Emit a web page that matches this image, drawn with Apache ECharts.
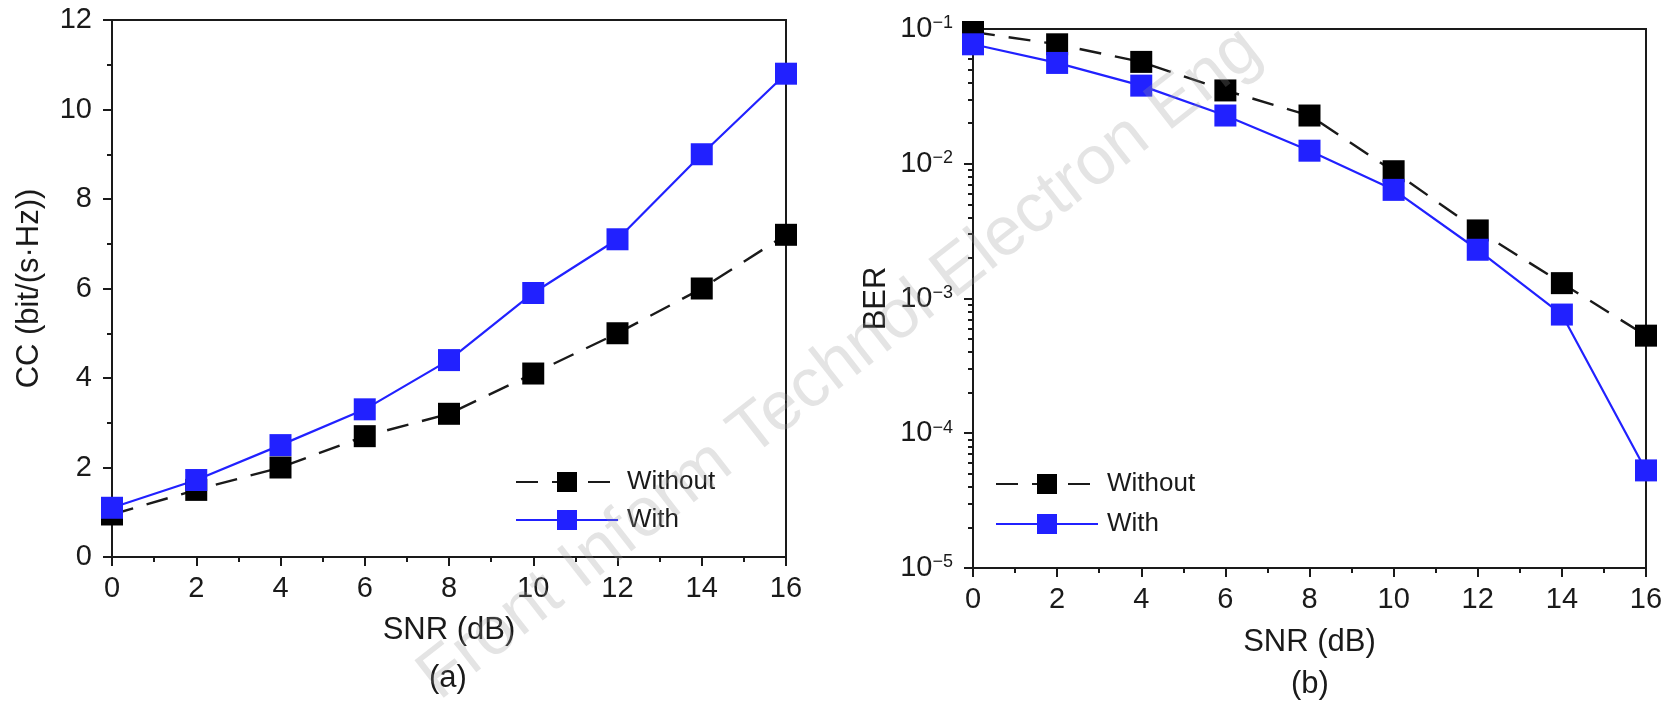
<!DOCTYPE html>
<html>
<head>
<meta charset="utf-8">
<script src="https://cdn.jsdelivr.net/npm/echarts@6/dist/echarts.min.js"></script>
<style>
html,body{margin:0;padding:0;background:#fff;}
#main{width:1677px;height:706px;}
</style>
</head>
<body>
<div id="main"></div>
<script>
// ---- data ----
var snr = [0, 2, 4, 6, 8, 10, 12, 14, 16];
var ccWithout = [0.95, 1.5, 2.0, 2.7, 3.2, 4.1, 5.0, 6.0, 7.2];
var ccWith = [1.1, 1.72, 2.5, 3.3, 4.4, 5.9, 7.1, 9.0, 10.8];
var berWithout = [0.095, 0.077, 0.057, 0.035, 0.0228, 0.0088, 0.0032, 0.0013, 0.00053];
var berWith = [0.077, 0.056, 0.038, 0.0228, 0.0125, 0.0064, 0.0023, 0.00076, 0.000053];
var berMinorTicks = [];
[1e-5, 1e-4, 1e-3, 1e-2].forEach(function (d) {
  for (var k = 2; k <= 9; k++) berMinorTicks.push(+(k * d).toPrecision(3));
});
var seriesNames = ['Without', 'With'];
var watermark = 'Front Inform Technol Electron Eng';

var FONT = '"Liberation Sans", Arial, sans-serif';
var INK = '#1a1a1a';
var BLUE = '#2121ff';

function pairs(xs, ys) { return xs.map(function (x, i) { return [x, ys[i]]; }); }

var axisLineStyle = { lineStyle: { color: INK, width: 2 } };
var tickStyle = { show: true, inside: false, length: 9, lineStyle: { color: INK, width: 2 } };
var minorStyle = { show: true, splitNumber: 2, length: 5, lineStyle: { color: INK, width: 2 } };
var xLabelStyle = { fontFamily: FONT, fontSize: 29, color: INK, margin: 17 };
var yLabelStyle = { fontFamily: FONT, fontSize: 29, color: INK, margin: 20 };
var nameStyle = { fontFamily: FONT, fontSize: 31, color: INK };

function xAxisFor(gi, gap) {
  return {
    type: 'value', gridIndex: gi, min: 0, max: 16, interval: 2,
    name: 'SNR (dB)', nameLocation: 'middle', nameGap: gap, nameTextStyle: nameStyle,
    axisLine: axisLineStyle, axisTick: tickStyle, minorTick: minorStyle,
    axisLabel: xLabelStyle, splitLine: { show: false }
  };
}

function supLabel(v) {
  var e = Math.round(Math.log10(v));
  return '{b|10}{s|' + (e < 0 ? '\u2212' : '') + Math.abs(e) + '}';
}

var sWithout = {
  type: 'line', symbol: 'rect', symbolSize: 22,
  lineStyle: { color: INK, width: 2.4, type: [22, 14] },
  itemStyle: { color: '#000' }
};
var sWith = {
  type: 'line', symbol: 'rect', symbolSize: 22,
  lineStyle: { color: BLUE, width: 2.2 },
  itemStyle: { color: BLUE }
};

function legendAt(left, top, gap) {
  return {
    data: seriesNames, left: left, top: top, orient: 'vertical',
    itemWidth: 102, itemHeight: 25, itemGap: gap,
    textStyle: { fontFamily: FONT, fontSize: 26, color: INK, lineHeight: 26, padding: [0, 0, 0, 4] },
    selectedMode: false
  };
}

var chart = echarts.init(document.getElementById('main'), null, { renderer: 'canvas' });
chart.setOption({
  animation: false,
  backgroundColor: '#fff',
  grid: [
    { left: 112, top: 20, width: 674, height: 537, show: true, borderColor: INK, borderWidth: 2, containLabel: false },
    { left: 973, top: 29, width: 673, height: 539, show: true, borderColor: INK, borderWidth: 2, containLabel: false }
  ],
  xAxis: [xAxisFor(0, 58), xAxisFor(1, 59)],
  yAxis: [
    {
      type: 'value', gridIndex: 0, min: 0, max: 12, interval: 2,
      name: 'CC (bit/(s\u00B7Hz))', nameLocation: 'middle', nameGap: 67, nameTextStyle: nameStyle,
      axisLine: axisLineStyle, axisTick: tickStyle, minorTick: minorStyle,
      axisLabel: yLabelStyle, splitLine: { show: false }
    },
    {
      type: 'log', logBase: 10, gridIndex: 1, min: 1e-5, max: 1e-1,
      name: 'BER', nameLocation: 'middle', nameGap: 81, nameTextStyle: nameStyle,
      axisLine: axisLineStyle, axisTick: tickStyle,
      axisLabel: {
        margin: 20, formatter: supLabel,
        rich: {
          b: { fontFamily: FONT, fontSize: 29, color: INK },
          s: { fontFamily: FONT, fontSize: 18, color: INK, verticalAlign: 'top' }
        }
      },
      splitLine: { show: false }
    },
    {
      type: 'log', logBase: 10, gridIndex: 1, min: 1e-5, max: 1e-1, position: 'left',
      axisLine: { show: false }, axisLabel: { show: false }, splitLine: { show: false },
      axisTick: { show: true, length: 5, customValues: berMinorTicks, lineStyle: { color: INK, width: 2 } }
    }
  ],
  legend: [legendAt(510, 464, 12), legendAt(990, 466, 14)],
  series: [
    Object.assign({ name: seriesNames[0], xAxisIndex: 0, yAxisIndex: 0, data: pairs(snr, ccWithout) }, sWithout),
    Object.assign({ name: seriesNames[1], xAxisIndex: 0, yAxisIndex: 0, data: pairs(snr, ccWith) }, sWith),
    Object.assign({ name: seriesNames[0], xAxisIndex: 1, yAxisIndex: 1, data: pairs(snr, berWithout) }, sWithout),
    Object.assign({ name: seriesNames[1], xAxisIndex: 1, yAxisIndex: 1, data: pairs(snr, berWith) }, sWith)
  ],
  graphic: [
    { type: 'text', left: 429, top: 663, style: { text: '(a)', font: '31px ' + FONT, fill: INK } },
    { type: 'text', left: 1291, top: 669, style: { text: '(b)', font: '31px ' + FONT, fill: INK } },
    {
      type: 'text', x: 840, y: 364, rotation: Math.PI * 38 / 180, z: 100,
      style: { text: watermark, font: '69px ' + FONT, fill: 'rgba(150,150,150,0.26)', align: 'center', verticalAlign: 'middle' }
    }
  ]
});
</script>
</body>
</html>
